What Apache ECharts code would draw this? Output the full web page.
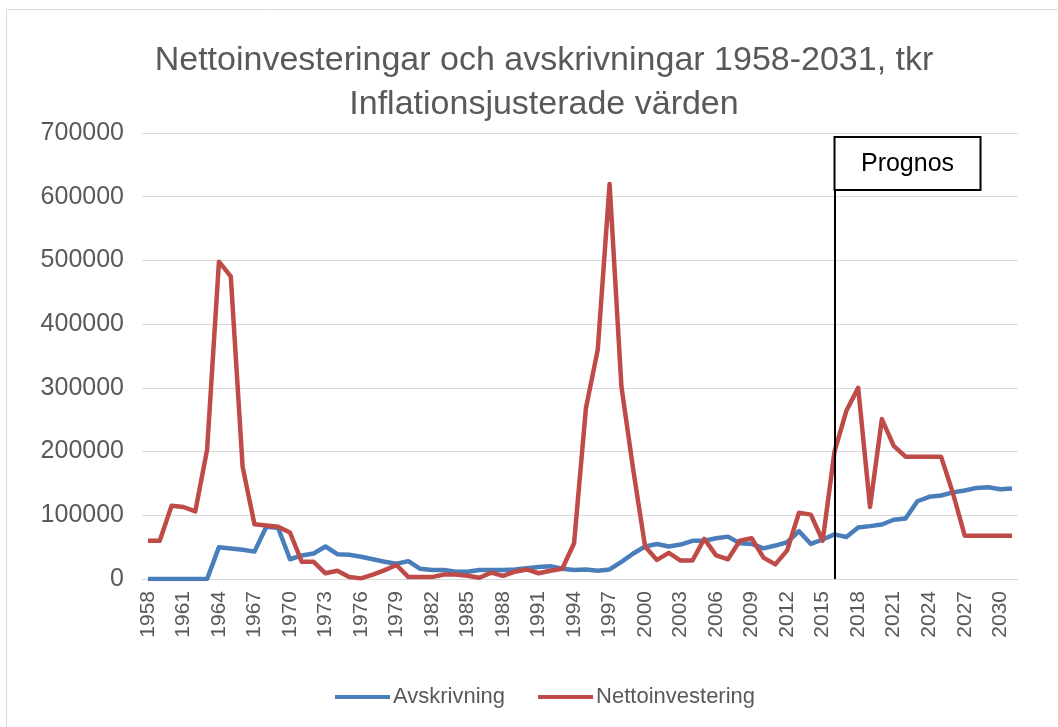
<!DOCTYPE html>
<html>
<head>
<meta charset="utf-8">
<script src="https://cdn.jsdelivr.net/npm/echarts@6/dist/echarts.min.js"></script>
<style>
html,body{margin:0;padding:0;background:#fff;}
#c{width:1058px;height:727px;}
</style>
</head>
<body>
<div id="c"></div>
<script>
var titleLines = ['Nettoinvesteringar och avskrivningar 1958-2031, tkr', 'Inflationsjusterade värden'];
var years = [];
for (var y = 1958; y <= 2031; y++) years.push(String(y));
var seriesNames = ['Avskrivning', 'Nettoinvestering'];
var avskrivning = [
  0, 0, 0, 0, 0, 0, 50000, 48000, 46000, 43000,
  82000, 80000, 31000, 37000, 40000, 51000, 39000, 38000, 35000, 31000,
  27000, 24000, 28000, 16000, 14000, 14000, 11500, 11500, 14000, 14000,
  14000, 15000, 17000, 19000, 20000, 16000, 14000, 15000, 13000, 15000,
  27000, 40000, 51000, 55000, 51000, 54000, 60000, 60000, 64000, 66500,
  56000, 55000, 48000, 52500, 57700, 75000, 55000, 62000, 70000, 66000,
  81000, 83000, 85500, 93000, 95000, 122000, 129000, 131000, 136000, 139000,
  143000, 144000, 141000, 142000
];
var nettoinvestering = [
  60000, 60000, 115000, 113000, 106000, 203000, 498000, 475000, 176000, 86000,
  84000, 82000, 73000, 27000, 27000, 9000, 13000, 3000, 1000, 7000,
  14000, 22000, 3000, 3000, 3000, 7000, 7000, 5000, 2000, 10000,
  5000, 11500, 15000, 9000, 13000, 16000, 56000, 268000, 360000, 620000,
  302000, 171000, 51000, 30000, 41000, 29000, 29000, 63000, 37000, 31000,
  60000, 64000, 33500, 23000, 45000, 104000, 101000, 60000, 200000, 264000,
  300000, 113000, 251000, 209000, 192000, 192000, 192000, 192000, 135000, 68000,
  68000, 68000, 68000, 68000
];
var prognosYear = '2016';
var prognosLabel = 'Prognos';

var FONT = '"Liberation Sans", Arial, sans-serif';
var TXT = '#595959';

var chart = echarts.init(document.getElementById('c'), null, {renderer: 'canvas'});
var option = {
  animation: false,
  backgroundColor: '#fff',
  title: {
    text: titleLines.join('\n'),
    left: 539,
    textAlign: 'center',
    top: 34,
    textStyle: {fontFamily: FONT, fontSize: 34, fontWeight: 'normal', color: TXT, lineHeight: 44}
  },
  legend: {
    data: seriesNames,
    left: 330,
    top: 681,
    icon: 'rect',
    itemWidth: 55,
    itemHeight: 4,
    itemGap: 33,
    textStyle: {fontFamily: FONT, fontSize: 22, color: TXT, padding: [0, 0, 0, -2]}
  },
  grid: {left: 142, right: 40, top: 133, bottom: 148, containLabel: false},
  xAxis: {
    type: 'category',
    data: years,
    boundaryGap: true,
    axisLine: {show: true, lineStyle: {color: '#d9d9d9', width: 1}},
    axisTick: {show: false},
    axisLabel: {
      interval: 2,
      rotate: 90,
      margin: 12,
      fontFamily: FONT,
      fontSize: 21,
      color: TXT
    },
    splitLine: {show: false}
  },
  yAxis: {
    type: 'value',
    min: 0,
    max: 700000,
    interval: 100000,
    axisLine: {show: false},
    axisTick: {show: false},
    axisLabel: {
      margin: 18,
      fontFamily: FONT,
      fontSize: 25,
      color: TXT,
      formatter: function (v) { return String(v); }
    },
    splitLine: {lineStyle: {color: '#d9d9d9', width: 1}}
  },
  series: [
    {
      name: seriesNames[0],
      type: 'line',
      data: avskrivning,
      showSymbol: false,
      symbol: 'none',
      color: '#4a7ebb',
      lineStyle: {width: 4.5, color: '#4a7ebb', join: 'round'},
      z: 3
    },
    {
      name: seriesNames[1],
      type: 'line',
      data: nettoinvestering,
      showSymbol: false,
      symbol: 'none',
      color: '#be4b48',
      lineStyle: {width: 4.5, color: '#be4b48', join: 'round'},
      z: 4,
      markLine: {
        silent: true,
        symbol: ['none', 'none'],
        label: {show: false},
        lineStyle: {color: '#000', width: 2, type: 'solid'},
        data: [[{coord: [prognosYear, 0]}, {coord: [prognosYear, 650000]}]]
      }
    }
  ]
};
chart.setOption(option);

var px = chart.convertToPixel({xAxisIndex: 0}, prognosYear);
chart.setOption({
  graphic: [
    {
      type: 'rect',
      z: 0,
      silent: true,
      shape: {x: 6.5, y: 9.5, width: 1100, height: 800},
      style: {fill: 'none', stroke: '#d9d9d9', lineWidth: 1}
    },
    {
      type: 'group',
      z: 100,
      children: [
        {
          type: 'rect',
          z: 100,
          shape: {x: px, y: 137, width: 146, height: 53},
          style: {fill: '#fff', stroke: '#000', lineWidth: 2}
        },
        {
          type: 'text',
          z: 101,
          x: px + 73,
          y: 164,
          style: {
            text: prognosLabel,
            fontFamily: FONT,
            fontSize: 25,
            fill: '#000',
            align: 'center',
            verticalAlign: 'middle'
          }
        }
      ]
    }
  ]
});
</script>
</body>
</html>
